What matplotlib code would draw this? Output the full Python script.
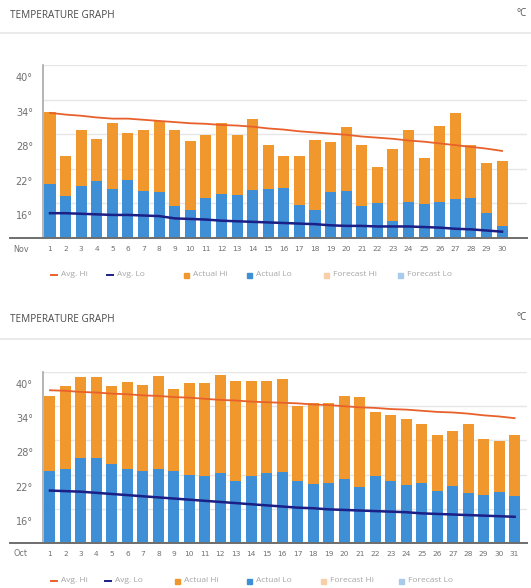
import matplotlib
matplotlib.use("Agg")
import matplotlib.pyplot as plt
from matplotlib.lines import Line2D
import matplotlib.transforms as mtransforms

# ---- data -------------------------------------------------------------
nov_days = list(range(1, 31))
nov_actual_hi = [31.9, 24.3, 28.8, 27.2, 29.9, 28.2, 28.7, 30.3, 28.8, 26.8,
                 27.9, 30.0, 27.9, 30.7, 26.1, 24.3, 24.3, 27.0, 26.7, 29.3,
                 26.1, 22.3, 25.5, 28.7, 23.9, 29.5, 31.7, 26.1, 23.0, 23.3]
nov_actual_lo = [19.3, 17.3, 19.1, 19.8, 18.5, 20.1, 18.2, 18.0, 15.6, 14.9,
                 16.9, 17.7, 17.5, 18.4, 18.5, 18.6, 15.8, 14.9, 18.0, 18.2,
                 15.6, 16.1, 13.0, 16.2, 15.9, 16.2, 16.7, 16.9, 14.4, 12.1]
nov_avg_hi = [31.7, 31.4, 31.2, 30.9, 30.7, 30.7, 30.5, 30.3, 30.1, 29.9,
              29.8, 29.6, 29.5, 29.3, 29.0, 28.8, 28.5, 28.3, 28.1, 27.9,
              27.6, 27.4, 27.2, 26.9, 26.7, 26.4, 26.1, 25.8, 25.5, 25.1]
nov_avg_lo = [14.3, 14.3, 14.2, 14.1, 14.0, 14.0, 13.9, 13.8, 13.4, 13.3,
              13.2, 13.0, 12.9, 12.8, 12.7, 12.6, 12.5, 12.4, 12.2, 12.1,
              12.1, 12.0, 12.0, 12.0, 11.9, 11.8, 11.6, 11.5, 11.3, 11.1]

oct_days = list(range(1, 32))
oct_actual_hi = [35.8, 37.5, 39.1, 39.1, 37.5, 38.2, 37.8, 39.3, 37.0, 38.0,
                 38.0, 39.4, 38.4, 38.4, 38.4, 38.7, 34.0, 34.5, 34.5, 35.8,
                 35.6, 32.9, 32.5, 31.8, 30.8, 28.9, 29.6, 30.8, 28.3, 27.9,
                 29.0]
oct_actual_lo = [22.6, 22.9, 25.0, 25.0, 23.8, 22.9, 22.6, 22.9, 22.6, 22.0,
                 21.8, 22.3, 20.9, 21.8, 22.3, 22.5, 20.8, 20.3, 20.6, 21.3,
                 19.9, 21.8, 20.8, 20.1, 20.6, 19.1, 20.0, 18.8, 18.4, 18.9,
                 18.2]
oct_avg_hi = [36.8, 36.7, 36.5, 36.4, 36.2, 36.1, 35.9, 35.8, 35.6, 35.5,
              35.3, 35.1, 35.0, 34.8, 34.7, 34.6, 34.5, 34.3, 34.2, 34.0,
              33.8, 33.7, 33.5, 33.4, 33.2, 33.0, 32.9, 32.7, 32.4, 32.2,
              31.9]
oct_avg_lo = [19.2, 19.1, 19.0, 18.8, 18.6, 18.4, 18.2, 18.0, 17.8, 17.6,
              17.4, 17.2, 17.0, 16.8, 16.6, 16.4, 16.2, 16.1, 15.9, 15.8,
              15.7, 15.6, 15.5, 15.4, 15.2, 15.1, 15.0, 14.9, 14.8, 14.7,
              14.6]

y_ticks = [10, 16, 22, 28, 34, 40]
y_tick_labels = ["", "16°", "22°", "28°", "34°", "40°"]
legend_labels = ["Avg. Hi", "Avg. Lo", "Actual Hi", "Actual Lo",
                 "Forecast Hi", "Forecast Lo"]
title_text = "TEMPERATURE GRAPH"
unit_text = "°C"

# ---- style ------------------------------------------------------------
C_HI = "#F0982E"
C_LO = "#3E8FD6"
C_AVG_HI = "#E8612C"
C_AVG_LO = "#1B1F86"
C_FC_HI = "#F8CFA8"
C_FC_LO = "#A8CBEC"
C_GRID = "#E6E6E6"

W, H = 531, 588
fig = plt.figure(figsize=(W / 100, H / 100), dpi=100)
fig.patch.set_facecolor("white")

NARROW = ["Liberation Sans Narrow", "DejaVu Sans"]
TITLE_FONT = ["Open Sans", "DejaVu Sans"]


def fx(px):
    return px / W


def fy(py):
    return 1 - py / H


def draw_panel(top, bottom, title_y, sep_y, month, days, hi, lo, avg_hi,
               avg_lo, xmax, tick_y, legend_y, legend_x):
    # header
    fig.text(fx(10), fy(title_y), title_text, fontsize=7.2, color="#4a4a4a",
             family=TITLE_FONT, va="center", ha="left")
    fig.text(fx(527), fy(title_y - 2), unit_text, fontsize=7, color="#555555",
             family=TITLE_FONT, va="center", ha="right")
    fig.add_artist(Line2D([0, 1], [fy(sep_y), fy(sep_y)],
                          transform=fig.transFigure, color="#E6E6E6", lw=1.2))

    ax = fig.add_axes([fx(43), fy(bottom), fx(527) - fx(43),
                       fy(top) - fy(bottom)])
    ax.set_xlim(0.55, xmax)
    ax.set_ylim(10, 40)
    ax.set_facecolor("none")
    for s in ax.spines.values():
        s.set_visible(False)
    ax.set_yticks(y_ticks)
    ax.set_yticklabels([])
    ax.tick_params(axis="both", length=0)
    ax.set_xticks([])
    ax.grid(axis="y", color=C_GRID, lw=1.0)
    ax.set_axisbelow(True)

    ax.bar(days, hi, bottom=0, width=0.71, color=C_HI, zorder=2)
    ax.bar(days, lo, bottom=0, width=0.71, color=C_LO, zorder=3)
    ax.plot(days, avg_hi, color=C_AVG_HI, lw=1.3, zorder=4)
    ax.plot(days, avg_lo, color=C_AVG_LO, lw=1.8, zorder=4)

    # y axis line
    ax.plot([0.55, 0.55], [10, 40], color="#A8A8A8", lw=1.2, clip_on=False,
            zorder=5)
    # baseline extends left under the month label
    fig.add_artist(Line2D([fx(10), fx(527)], [fy(bottom), fy(bottom)],
                          transform=fig.transFigure, color="#6E6E6E", lw=1.4))

    # y labels sit just below their gridlines
    off = mtransforms.ScaledTranslation(0, -13 / 100, fig.dpi_scale_trans)
    ylab_tr = mtransforms.blended_transform_factory(fig.transFigure,
                                                    ax.transData) + off
    for v, lab in zip(y_ticks, y_tick_labels):
        if lab:
            fig.text(fx(33), v, lab, fontsize=7, color="#707070",
                     family=NARROW, ha="right", va="center",
                     transform=ylab_tr)

    # x labels
    fig.text(fx(21), fy(tick_y), month, fontsize=5.8, color="#707070",
             family=NARROW, ha="center", va="center")
    xlab_tr = mtransforms.blended_transform_factory(ax.transData,
                                                    fig.transFigure)
    for d in days:
        ax.text(d, fy(tick_y), str(d), fontsize=5.3, color="#707070",
                family=NARROW, ha="center", va="center", transform=xlab_tr)

    # legend
    colors = [C_AVG_HI, C_AVG_LO, C_HI, C_LO, C_FC_HI, C_FC_LO]
    kinds = ["line", "line", "sq", "sq", "sq", "sq"]
    ly = fy(legend_y)
    for x0, lab, c, k in zip(legend_x, legend_labels, colors, kinds):
        if k == "line":
            fig.add_artist(Line2D([fx(x0 - 3), fx(x0 + 3)], [ly, ly],
                                  transform=fig.transFigure, color=c, lw=1.4))
        else:
            fig.add_artist(Line2D([fx(x0)], [ly], transform=fig.transFigure,
                                  marker="s", markersize=3.6, color=c, lw=0))
        fig.text(fx(x0 + 7), ly, lab, fontsize=6, color="#A5A5A5",
                 family=TITLE_FONT, ha="left", va="center")


draw_panel(top=65, bottom=238, title_y=15, sep_y=33, month="Nov",
           days=nov_days, hi=nov_actual_hi, lo=nov_actual_lo,
           avg_hi=nov_avg_hi, avg_lo=nov_avg_lo, xmax=31.6,
           tick_y=249, legend_y=275,
           legend_x=[54, 110, 186, 249, 326, 400])

draw_panel(top=372, bottom=543, title_y=319, sep_y=339, month="Oct",
           days=oct_days, hi=oct_actual_hi, lo=oct_actual_lo,
           avg_hi=oct_avg_hi, avg_lo=oct_avg_lo, xmax=31.8,
           tick_y=554, legend_y=581,
           legend_x=[54, 108, 177, 249, 323, 401])

fig.savefig("out.png", dpi=100, facecolor="white")
